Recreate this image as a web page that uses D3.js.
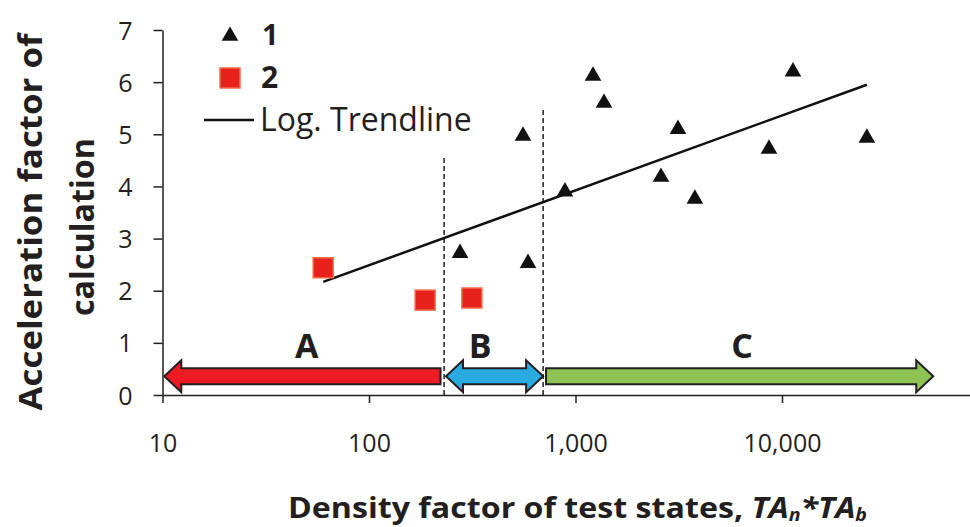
<!DOCTYPE html>
<html>
<head>
<meta charset="utf-8">
<script src="https://cdn.jsdelivr.net/npm/d3@7"></script>
<style>
	body { margin: 0; background: #fff; }
	svg { display: block; font-family: 'Open Sans', sans-serif; }
	.tick text { font-family: 'Open Sans', sans-serif; font-size: 25px; fill: #231f20; }
	.tick line, .domain { stroke: #231f20; stroke-width: 1.5; }
</style>
</head>
<body>
<svg id="chart" width="970" height="527"></svg>
<script>
const width = 970
const height = 527

// series 1 (triangles)
const s1X = [276, 589, 557, 1216, 1374, 889, 3135, 2594, 3785, 8650, 11300, 25760]
const s1Y = [2.72, 2.53, 4.97, 6.12, 5.6, 3.9, 5.1, 4.18, 3.76, 4.72, 6.2, 4.93]

// series 2 (squares)
const s2X = [60, 187, 315]
const s2Y = [2.44, 1.82, 1.86]

// log trendline end points
const trendX = [60, 25760]
const trendY = [2.17, 5.95]

// region boundaries (dashed lines) and arrows
const dividers = [231, 697]
const dividerTops = [4.6, 5.5]
const regionLabels = ['A', 'B', 'C']
const regionLabelX = [50, 345, 6400]
const regionFrom = [10.2, 236, 720]
const regionTo = [222, 697, 54000]
const regionColors = ['#ed1c24', '#29abe2', '#8dc454']
const regionHeads = [[true, false], [true, true], [false, true]]

const xTicks = [10, 100, 1000, 10000]
const yTicks = [0, 1, 2, 3, 4, 5, 6, 7]

const svg = d3.select('#chart')

const xScale = d3.scaleLog()
	.domain([10, 100000])
	.range([162.5, 988.5])

const yScale = d3.scaleLinear()
	.domain([0, 7])
	.range([395, 30])

// axes
svg.append('g')
	.attr('transform', 'translate(0,' + yScale(0) + ')')
	.call(d3.axisBottom(xScale)
		.tickValues(xTicks)
		.tickFormat(d3.format(','))
		.tickSize(8)
		.tickSizeOuter(0)
		.tickPadding(31))

svg.append('g')
	.attr('transform', 'translate(' + xScale(10) + ',0)')
	.call(d3.axisLeft(yScale)
		.tickValues(yTicks)
		.tickFormat(d3.format('d'))
		.tickSize(9)
		.tickSizeOuter(0)
		.tickPadding(21))
	.selectAll('.tick text')
	.attr('dy', '0.36em')

// dashed dividers
svg.selectAll('.divider')
	.data(dividers)
	.enter()
	.append('line')
	.attr('x1', d => xScale(d))
	.attr('x2', d => xScale(d))
	.attr('y1', yScale(0))
	.attr('y2', (d, i) => yScale(dividerTops[i]))
	.attr('stroke', '#231f20')
	.attr('stroke-width', 1.5)
	.attr('stroke-dasharray', '5,3')

// region arrows
const arrowY = yScale(0.36)
const shaftH = 8
const headH = 16
const headL = 17

const arrowPath = (i) => {
	const x0 = xScale(regionFrom[i])
	const x1 = xScale(regionTo[i])
	const [hl, hr] = regionHeads[i]
	const a = hl ? x0 + headL : x0
	const b = hr ? x1 - headL : x1
	const p = d3.path()
	p.moveTo(a, arrowY - shaftH)
	p.lineTo(b, arrowY - shaftH)
	if (hr) {
		p.lineTo(b, arrowY - headH)
		p.lineTo(x1, arrowY)
		p.lineTo(b, arrowY + headH)
	}
	p.lineTo(b, arrowY + shaftH)
	p.lineTo(a, arrowY + shaftH)
	if (hl) {
		p.lineTo(a, arrowY + headH)
		p.lineTo(x0, arrowY)
		p.lineTo(a, arrowY - headH)
	}
	p.closePath()
	return p.toString()
}

svg.selectAll('.region-arrow')
	.data(regionLabels)
	.enter()
	.append('path')
	.attr('d', (d, i) => arrowPath(i))
	.attr('fill', (d, i) => regionColors[i])
	.attr('stroke', '#231f20')
	.attr('stroke-width', 2)

svg.selectAll('.region-label')
	.data(regionLabels)
	.enter()
	.append('text')
	.attr('x', (d, i) => xScale(regionLabelX[i]))
	.attr('y', 358)
	.attr('text-anchor', 'middle')
	.attr('font-size', 34)
	.attr('font-weight', 'bold')
	.attr('fill', '#231f20')
	.text(d => d)

// trendline
svg.append('path')
	.datum(trendX.map((x, i) => [x, trendY[i]]))
	.attr('d', d3.line().x(d => xScale(d[0])).y(d => yScale(d[1])))
	.attr('stroke', '#111')
	.attr('stroke-width', 2.5)
	.attr('fill', 'none')

// markers
const tri = d3.symbol().type(d3.symbolTriangle).size(120)

svg.selectAll('.s1')
	.data(s1X)
	.enter()
	.append('path')
	.attr('d', tri)
	.attr('transform', (d, i) => 'translate(' + xScale(d) + ',' + yScale(s1Y[i]) + ')')
	.attr('fill', '#111')

svg.selectAll('.s2')
	.data(s2X)
	.enter()
	.append('rect')
	.attr('x', d => xScale(d) - 10)
	.attr('y', (d, i) => yScale(s2Y[i]) - 10)
	.attr('width', 20)
	.attr('height', 20)
	.attr('fill', '#e8211c')
	.attr('stroke', '#f26b4a')
	.attr('stroke-width', 1.5)

// legend
const legend = svg.append('g')

legend.append('path')
	.attr('d', tri)
	.attr('transform', 'translate(230,36)')
	.attr('fill', '#111')

legend.append('text')
	.attr('x', 262).attr('y', 45)
	.attr('font-size', 29).attr('font-weight', 'bold').attr('fill', '#231f20')
	.text('1')

legend.append('rect')
	.attr('x', 220).attr('y', 68).attr('width', 20).attr('height', 20)
	.attr('fill', '#e8211c').attr('stroke', '#f26b4a').attr('stroke-width', 1.5)

legend.append('text')
	.attr('x', 261).attr('y', 88)
	.attr('font-size', 30).attr('font-weight', 'bold').attr('fill', '#231f20')
	.text('2')

legend.append('line')
	.attr('x1', 204).attr('x2', 254).attr('y1', 120).attr('y2', 120)
	.attr('stroke', '#111').attr('stroke-width', 2.5)

legend.append('text')
	.attr('x', 260).attr('y', 131)
	.attr('font-size', 32).attr('fill', '#231f20')
	.text('Log. Trendline')

// axis titles
const yTitle = svg.append('text')
	.attr('transform', 'translate(0,224) rotate(-90)')
	.attr('text-anchor', 'middle')
	.attr('font-size', 32)
	.attr('font-weight', 'bold')
	.attr('fill', '#231f20')

yTitle.append('tspan').attr('x', 2).attr('y', 42)
	.attr('textLength', 377).attr('lengthAdjust', 'spacingAndGlyphs')
	.text('Acceleration factor of')
yTitle.append('tspan').attr('x', -3).attr('y', 94)
	.attr('textLength', 178).attr('lengthAdjust', 'spacingAndGlyphs')
	.text('calculation')

const xTitle = svg.append('text')
	.attr('x', 288)
	.attr('y', 518)
	.attr('font-size', 28)
	.attr('font-weight', 'bold')
	.attr('fill', '#231f20')
	.attr('textLength', 579)
	.attr('lengthAdjust', 'spacingAndGlyphs')

xTitle.append('tspan').text('Density factor of test states, ')
xTitle.append('tspan').attr('font-style', 'italic').text('TA')
xTitle.append('tspan').attr('font-style', 'italic').attr('font-size', 17).attr('dy', 3).text('n')
xTitle.append('tspan').attr('font-style', 'italic').attr('dy', -3).text('*TA')
xTitle.append('tspan').attr('font-style', 'italic').attr('font-size', 17).attr('dy', 3).text('b')
</script>
</body>
</html>
